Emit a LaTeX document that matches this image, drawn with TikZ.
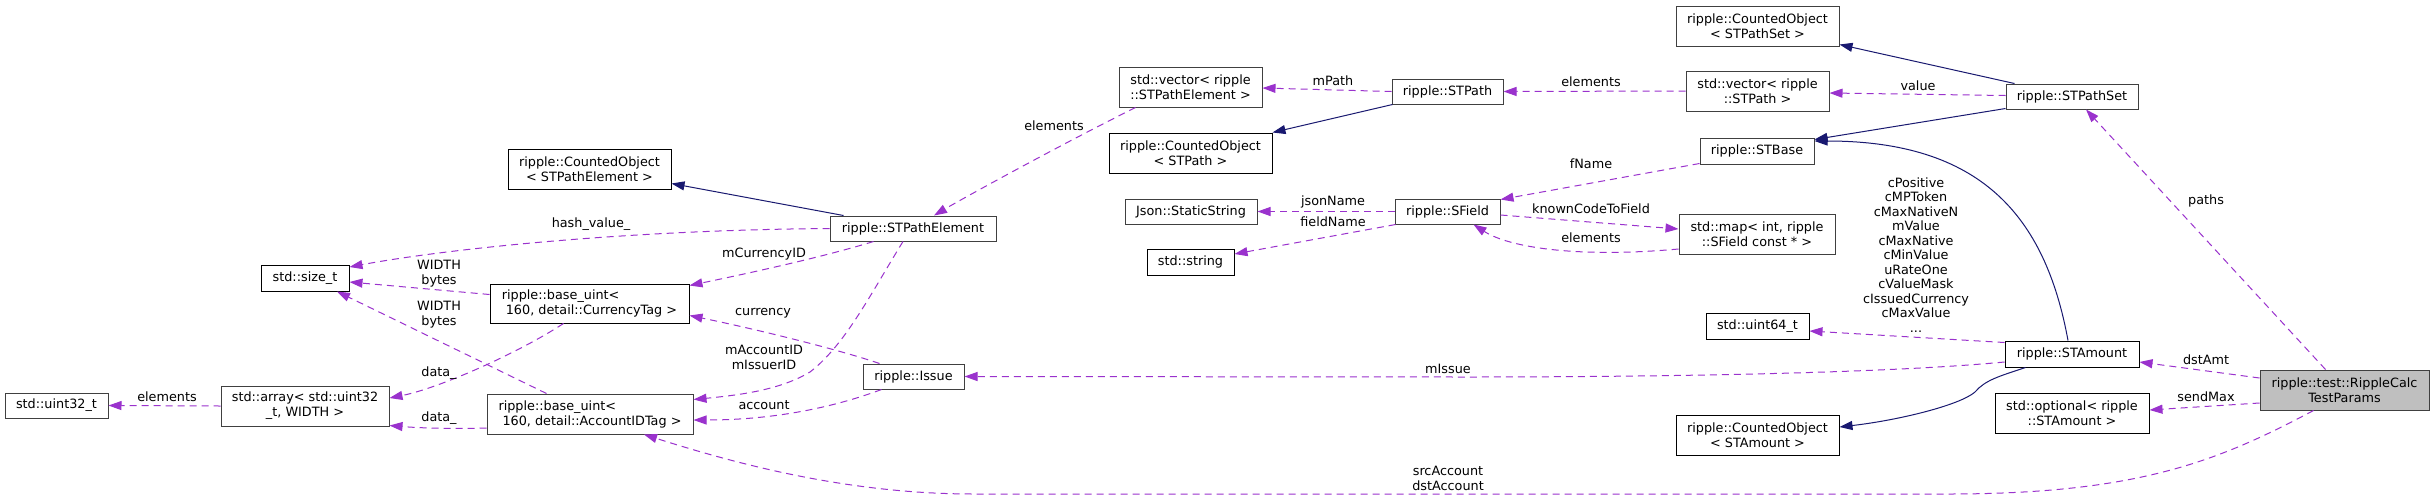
\documentclass[tikz,border=0pt]{standalone}
\usepackage{fontspec}
\setmainfont{DejaVu Sans}
\usetikzlibrary{arrows.meta,calc}
\definecolor{depc}{HTML}{9A32CD}
\definecolor{inhc}{HTML}{191970}
\definecolor{bordc}{HTML}{404040}
\definecolor{rootfill}{HTML}{BFBFBF}
\begin{document}
\begin{tikzpicture}[x=1pt,y=-1pt,
  box/.style={draw=bordc, line width=1pt, rectangle, inner sep=0pt, fill=white, font=\fontsize{12.8}{15}\selectfont, align=center},
  bbox/.style={box, draw=black},
  lbl/.style={font=\fontsize{12.8}{15}\selectfont, align=center, inner sep=0pt, text=black},
  uses/.style={draw=depc, line width=1pt, dash pattern=on 7pt off 5pt, -{Triangle[length=13pt,width=9pt]}},
  isa/.style={draw=inhc, line width=1pt, -{Triangle[length=13pt,width=9pt]}},
]
\useasboundingbox[fill=white] (0,0) rectangle (2435,499);

% nodes
\node[box, minimum width=103pt, minimum height=25pt] (uint32) at (56.5,405.5) {std::uint32\_t};
\node[box, minimum width=168pt, minimum height=40pt] (array) at (305,406) {std::array< std::uint32\\\_t, WIDTH >};
\node[bbox, minimum width=88pt, minimum height=26pt] (sizet) at (305,278) {std::size\_t};
\node[bbox, minimum width=199pt, minimum height=39pt, align=left] (cur) at (589.5,303.5) {ripple::base\_uint<\\\hspace*{4pt}160, detail::CurrencyTag >};
\node[box, minimum width=206pt, minimum height=40pt, align=left] (acct) at (590,414) {ripple::base\_uint<\\\hspace*{4pt}160, detail::AccountIDTag >};
\node[bbox, minimum width=163pt, minimum height=40pt] (cope) at (589.5,169) {ripple::CountedObject\\< STPathElement >};
\node[box, minimum width=166pt, minimum height=25pt] (stpe) at (913,228.5) {ripple::STPathElement};
\node[box, minimum width=101pt, minimum height=25pt] (issue) at (913.5,376.5) {ripple::Issue};
\node[box, minimum width=143pt, minimum height=40pt] (vecpe) at (1190.5,87) {std::vector< ripple\\::STPathElement >};
\node[bbox, minimum width=163pt, minimum height=40pt] (copath) at (1190.5,153) {ripple::CountedObject\\< STPath >};
\node[box, minimum width=132pt, minimum height=25pt] (json) at (1191,211.5) {Json::StaticString};
\node[bbox, minimum width=87pt, minimum height=26pt] (string) at (1190.5,262) {std::string};
\node[box, minimum width=111pt, minimum height=25pt] (stpath) at (1447.5,91.5) {ripple::STPath};
\node[box, minimum width=105pt, minimum height=25pt] (sfield) at (1447.5,211.5) {ripple::SField};
\node[box, minimum width=163pt, minimum height=40pt] (cops) at (1757.5,26) {ripple::CountedObject\\< STPathSet >};
\node[box, minimum width=143pt, minimum height=40pt] (vecpath) at (1757.5,91) {std::vector< ripple\\::STPath >};
\node[box, minimum width=114pt, minimum height=26pt] (stbase) at (1757,151) {ripple::STBase};
\node[box, minimum width=156pt, minimum height=40pt] (map) at (1757,234) {std::map< int, ripple\\::SField const * >};
\node[bbox, minimum width=103pt, minimum height=26pt] (uint64) at (1757.5,326) {std::uint64\_t};
\node[bbox, minimum width=163pt, minimum height=40pt] (coamt) at (1757.5,435) {ripple::CountedObject\\< STAmount >};
\node[box, minimum width=132pt, minimum height=25pt] (stps) at (2072,96.5) {ripple::STPathSet};
\node[bbox, minimum width=134pt, minimum height=26pt] (stamt) at (2072,354) {ripple::STAmount};
\node[bbox, minimum width=154pt, minimum height=40pt] (opt) at (2072,413) {std::optional< ripple\\::STAmount >};
\node[box, fill=rootfill, minimum width=169pt, minimum height=40pt] (rc) at (2344.5,390) {ripple::test::RippleCalc\\TestParams};

% usage edges
\draw[uses] (array.west) -- (uint32.east);
\draw[uses] (stpe.west) .. controls (620,230) and (440,250) .. ($(sizet.east)+(0,-11)$);
\draw[uses] ($(cur.west)+(0,-9)$) -- ($(sizet.east)+(0,4)$);
\draw[uses] ($(acct.north west)+(60,0)$) -- ($(sizet.south)+(32,0)$);
\draw[uses] ($(cur.south west)+(74,0)$) .. controls (520,352) and (440,388) .. ($(array.east)+(0,-8)$);
\draw[uses] ($(acct.west)+(0,14)$) .. controls (450,429) and (420,428) .. ($(array.south east)+(0,-1)$);
\draw[uses] ($(stpe.south west)+(44,0)$) .. controls (820,258) and (740,275) .. ($(cur.north east)+(0,2)$);
\draw[uses] ($(stpe.south)+(-10,0)$) .. controls (870,295) and (845,345) .. (810,372) .. controls (780,390) and (740,395) .. ($(acct.north east)+(0,6)$);
\draw[uses] ($(issue.north west)+(17,0)$) .. controls (840,350) and (760,330) .. ($(cur.east)+(0,12)$);
\draw[uses] ($(issue.south west)+(19,0)$) .. controls (840,405) and (780,420) .. ($(acct.east)+(0,6)$);
\draw[uses] (stpath.west) -- ($(vecpe.east)+(0,1)$);
\draw[uses] ($(vecpe.south west)+(17,0)$) .. controls (1060,145) and (960,200) .. ($(stpe.north)+(21,0)$);
\draw[uses] (vecpath.west) -- (stpath.east);
\draw[uses] ($(stps.west)+(0,-1)$) -- ($(vecpath.east)+(0,2)$);
\draw[uses] ($(stbase.south west)+(0,-1)$) -- ($(sfield.north east)+(0,1)$);
\draw[uses] (sfield.west) -- (json.east);
\draw[uses] ($(sfield.south west)+(1,0)$) -- ($(string.east)+(0,-8)$);
\draw[uses] ($(sfield.east)+(0,3.5)$) -- ($(map.west)+(0,-5)$);
\draw[uses] ($(map.west)+(0,15)$) .. controls (1580,258) and (1510,248) .. ($(sfield.south)+(26,0)$);
\draw[uses] ($(stamt.north west)+(0,2)$) -- ($(uint64.east)+(0,5)$);
\draw[uses] ($(stamt.west)+(0,8)$) .. controls (1900,372) and (1700,377) .. (1461,377) -- (issue.east);
\draw[uses] ($(rc.west)+(0,-12)$) -- ($(stamt.east)+(0,8)$);
\draw[uses] ($(rc.west)+(0,13)$) -- ($(opt.east)+(0,-3)$);
\draw[uses] ($(rc.north)+(-19,0)$) -- ($(stps.south)+(14,0)$);
\draw[uses] ($(rc.south)+(-31,0)$) .. controls (2220,460) and (2140,494) .. (1948,494) -- (974,494) .. controls (850,494) and (740,465) .. ($(acct.south)+(54,0)$);

% inheritance edges
\draw[isa] ($(stpe.north west)+(14,0)$) -- ($(cope.south east)+(0,-6)$);
\draw[isa] ($(stpath.south west)+(1,0)$) -- (copath.north east);
\draw[isa] ($(stps.north west)+(9,0)$) -- ($(cops.south east)+(0,-2)$);
\draw[isa] ($(stps.south west)+(0,-1)$) -- ($(stbase.north east)+(0,2)$);
\draw[isa] ($(stamt.north)+(-4,0)$) .. controls (2045,215) and (1980,141) .. ($(stbase.east)+(0,-10)$);
\draw[isa] ($(stamt.south west)+(21,0)$) .. controls (2000,376) and (1985,380) .. (1975,392) .. controls (1960,405) and (1900,420) .. ($(coamt.east)+(0,-8)$);

% labels
\node[lbl] (l1) at (167,397) {elements};
\node[lbl] (l2) at (591,224) {hash\_value\_};
\node[lbl] (l3) at (439,273.5) {WIDTH\\bytes};
\node[lbl] (l4) at (439,314.5) {WIDTH\\bytes};
\node[lbl] (l5) at (439,373) {data\_};
\node[lbl] (l6) at (439,418) {data\_};
\node[lbl] (l7) at (764,254) {mCurrencyID};
\node[lbl] (l8) at (763,313) {currency};
\node[lbl] (l9) at (764,357.5) {mAccountID\\mIssuerID};
\node[lbl] (l10) at (764,405) {account};
\node[lbl] (l11) at (1054,126) {elements};
\node[lbl] (l12) at (1333,81) {mPath};
\node[lbl] (l13) at (1333,202) {jsonName};
\node[lbl] (l14) at (1333,222) {fieldName};
\node[lbl] (l15) at (1448,369) {mIssue};
\node[lbl] (l16) at (1448,478.5) {srcAccount\\dstAccount};
\node[lbl] (l17) at (1591,82) {elements};
\node[lbl] (l18) at (1591,164) {fName};
\node[lbl] (l19) at (1591,209) {knownCodeToField};
\node[lbl] (l20) at (1591,238) {elements};
\node[lbl] (l21) at (1918,86) {value};
\node[lbl, font=\fontsize{12.8}{14.5}\selectfont] (l22) at (1916,255) {cPositive\\cMPToken\\cMaxNativeN\\mValue\\cMaxNative\\cMinValue\\uRateOne\\cValueMask\\cIssuedCurrency\\cMaxValue\\...};
\node[lbl] (l23) at (2206,201) {paths};
\node[lbl] (l24) at (2206,360) {dstAmt};
\node[lbl] (l25) at (2206,397) {sendMax};
\end{tikzpicture}
\end{document}
